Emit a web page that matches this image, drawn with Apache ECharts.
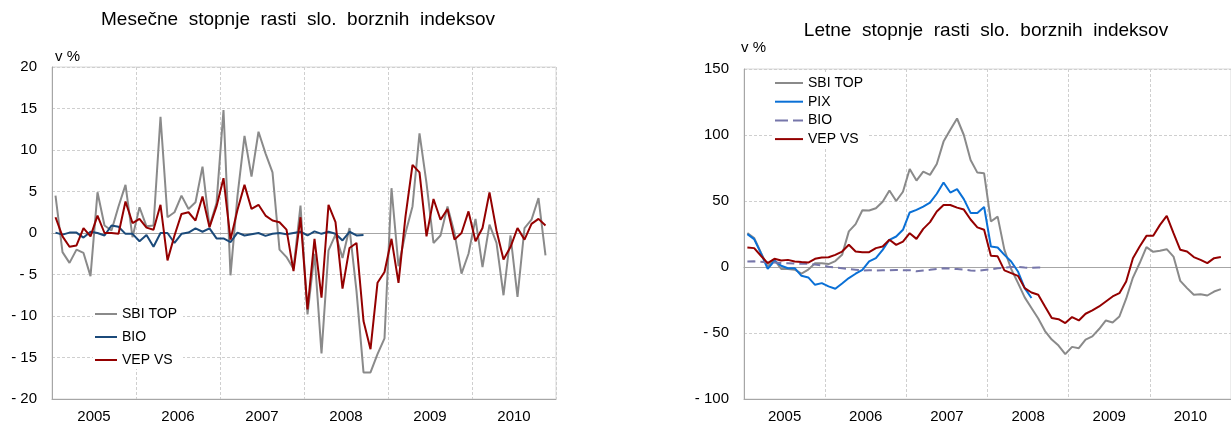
<!DOCTYPE html>
<html>
<head>
<meta charset="utf-8">
<script src="https://cdn.jsdelivr.net/npm/echarts@6/dist/echarts.min.js"></script>
<style>
html,body{margin:0;padding:0;background:#fff;}
#c{width:1231px;height:431px;}
</style>
</head>
<body>
<div id="c"></div>
<script>
// ---- categories ----
const years = ['2005','2006','2007','2008','2009','2010'];
const monthNums = ['01','02','03','04','05','06','07','08','09','10','11','12'];

// ---- left chart: monthly growth rates (v %) ----
const sbiTopM = [4.5,-2.3,-3.6,-2.0,-2.4,-5.2,4.9,0.9,0.3,3.2,5.8,-0.5,3.1,0.8,0.9,14.0,1.9,2.5,4.5,2.9,3.7,8.0,0.8,3.6,14.8,-5.1,4.5,11.7,6.8,12.2,9.6,7.3,-2.0,-2.9,-4.3,3.3,-9.8,-2.5,-14.5,-2.1,-0.2,-3.0,0.6,-7.0,-16.8,-16.8,-14.6,-12.7,5.4,-4.0,0.0,3.2,12.0,6.0,-1.2,-0.3,3.2,0.0,-4.9,-2.5,1.7,-4.1,1.0,-1.2,-7.5,-0.3,-7.7,0.6,1.6,4.2,-2.7];
const bioM = [0.05,-0.2,0.05,0.05,-0.55,0.15,0,-0.3,0.9,0.75,-0.1,-0.1,-1.0,-0.25,-1.65,0,0,-1.2,-0.1,0.05,0.55,0.15,0.55,-0.65,-0.65,-1.1,0.05,-0.3,-0.15,0,-0.35,-0.1,0,-0.15,0,0.15,-0.3,0.2,-0.1,0.15,-0.1,-0.9,0.15,-0.3,-0.25];
const vepM = [1.9,-0.4,-1.65,-1.5,0.6,-0.4,2.1,0.0,0.0,-0.1,3.8,1.2,1.7,0.65,0.4,3.4,-3.3,-0.3,2.3,2.5,1.5,4.4,0.7,3.2,6.6,-0.8,2.8,5.8,2.9,3.4,2.1,1.5,1.3,0.4,-4.6,1.9,-9.2,-0.7,-7.8,3.4,1.3,-6.7,-1.8,-1.2,-10.6,-14.0,-6.0,-4.7,-0.7,-6.0,2.0,8.2,7.3,-0.4,4.1,1.6,2.9,-0.8,0.0,2.6,-1.0,0.6,4.9,0.3,-3.2,-1.7,0.6,-0.8,1.1,1.7,0.9];

// ---- right chart: annual growth rates (v %) ----
const sbiTopY = [25.7,22,10.9,0.5,5.4,-1.5,-1.5,-2,-5,-2,2.9,2.9,2.2,4.5,9.2,27,32.5,43,42.8,44.5,49.5,58,50,57,74.3,65.5,72.3,69.8,78,95,104,112.5,100,81,71.5,71,34.5,38.2,13,-1.5,-12,-23,-31,-39,-48.5,-55,-59.5,-66,-60.5,-61.5,-55,-52.6,-47,-40.5,-42,-37.5,-24,-8,3,15.1,11.5,12.3,13.5,7.9,-10.5,-16,-21,-20.6,-21.6,-18.6,-16.8];
const pixY = [24.9,21.1,10.5,-1.4,4.7,0.9,-0.9,-0.9,-6.7,-7.9,-13.5,-12.2,-14.7,-16.5,-12.5,-8.4,-5.1,-2.1,4.2,6.7,13,20.6,23.1,28.2,41.3,43.3,45.8,48.8,55.5,64,56.4,59,51.4,41,41,45.5,15.5,14.8,9.2,4.2,-3.4,-16,-23.5];
const bioY = [4.2,4.3,4.0,3.5,3.4,3.0,2.9,2.6,2.4,2.4,1.8,1.2,0.2,-0.4,-0.9,-1.5,-2.0,-2.6,-2.5,-2.6,-2.5,-2.4,-2.2,-2.4,-2.4,-3.3,-2.6,-2.1,-1.5,-0.9,-1.2,-1.6,-2.0,-2.6,-2.9,-2.3,-1.8,-1.0,-0.4,0.0,0.0,-0.4,-0.6,-0.4,-0.6];
const vepY = [14.8,14.3,8.5,2.9,6.2,4.9,5.4,4.2,3.7,3.4,6.2,7.2,7.4,9.2,11.7,16.8,11.7,11.2,11.2,14.3,15.5,20.6,16.8,19.3,25.6,21.3,28.9,34,42,47,47,45,43.5,36,30,28.2,8.5,8.1,-2.6,-4.6,-6.7,-16,-19.3,-21,-29.9,-38.7,-39.5,-42.5,-37.9,-40.5,-35.4,-32.9,-29.9,-26.1,-22.3,-19.8,-11,6.7,15.5,23.6,23.6,31.9,38.8,25.6,13,11.7,7.5,5.4,2.9,6.7,7.5];

const months = [];
years.forEach(y => monthNums.forEach(m => months.push(y + '-' + m)));

const FONT = 'Liberation Sans, Arial, sans-serif';
const AXIS_GRAY = '#a6a6a6';
const GRID_GRAY = '#cfcfcf';
const fmt = v => (v < 0 ? '- ' + Math.abs(v) : String(v));

function monthAxis(gridIndex) {
  return {
    type: 'category', gridIndex: gridIndex, data: months, boundaryGap: true,
    axisLine: { show: true, onZero: true, lineStyle: { color: AXIS_GRAY, width: 1 } },
    axisTick: { show: false }, axisLabel: { show: false },
    splitLine: { show: true, interval: (i) => i % 12 === 0, lineStyle: { color: GRID_GRAY, type: [3, 2], width: 1 } }
  };
}
function yearAxis(gridIndex) {
  return {
    type: 'category', gridIndex: gridIndex, data: years, boundaryGap: true, position: 'bottom',
    axisLine: { show: true, onZero: false, lineStyle: { color: AXIS_GRAY, width: 1 } },
    axisTick: { show: false },
    axisLabel: { color: '#000', fontFamily: FONT, fontSize: 15, margin: 10 },
    splitLine: { show: false }
  };
}
function valAxis(gridIndex, min, max, interval) {
  return {
    type: 'value', gridIndex: gridIndex, min: min, max: max, interval: interval,
    axisLine: { show: true, lineStyle: { color: AXIS_GRAY, width: 1 } },
    axisTick: { show: false },
    axisLabel: { color: '#000', fontFamily: FONT, fontSize: 15, margin: 15, formatter: fmt },
    splitLine: { show: true, lineStyle: { color: GRID_GRAY, type: [3, 2], width: 1 } }
  };
}
function line(name, data, color, xi, yi, dashed) {
  return {
    type: 'line', name: name, data: data, xAxisIndex: xi, yAxisIndex: yi,
    symbol: 'none', showSymbol: false, animation: false, connectNulls: false,
    lineStyle: { color: color, width: 2, type: dashed ? [8, 5] : 'solid' },
    itemStyle: { color: color }
  };
}

const C_SBI = '#8a8a8a', C_BIO_L = '#1b4a7a', C_VEP = '#940000', C_PIX = '#0a70d6', C_BIO_R = '#7676aa';
const DASH_ICON = 'path://M0,0h13v2h-13z M18,0h10v2h-10z';

const legendText = { color: '#000', fontFamily: FONT, fontSize: 14, lineHeight: 14 };

const option = {
  animation: false,
  backgroundColor: '#fff',
  textStyle: { fontFamily: FONT },
  grid: [
    { left: 52, top: 67, width: 504, height: 332, show: true, borderColor: '#d9d9d9', borderWidth: 1 },
    { left: 744, top: 69, width: 492, height: 330, show: true, borderColor: '#d9d9d9', borderWidth: 1 }
  ],
  xAxis: [monthAxis(0), yearAxis(0), monthAxis(1), yearAxis(1)],
  yAxis: [valAxis(0, -20, 20, 5), valAxis(1, -100, 150, 50)],
  legend: [
    {
      orient: 'vertical', left: 93, top: 305, itemWidth: 22, itemHeight: 2, itemGap: 9,
      padding: [2, 6, 2, 2], backgroundColor: '#fff', icon: 'rect',
      textStyle: legendText,
      data: ['SBI TOP', 'BIO', 'VEP VS'], formatter: n => n.trim()
    },
    {
      orient: 'vertical', left: 773, top: 74, itemWidth: 28, itemHeight: 2, itemGap: 4.7,
      padding: [2, 6, 2, 2], backgroundColor: '#fff', icon: 'rect',
      textStyle: legendText,
      data: ['SBI TOP ', 'PIX ', { name: 'BIO ', icon: DASH_ICON }, 'VEP VS '], formatter: n => n.trim()
    }
  ],
  graphic: [
    { type: 'text', style: { text: 'Mesečne  stopnje  rasti  slo.  borznih  indeksov', x: 298, y: 20, textAlign: 'center', textVerticalAlign: 'middle', font: '19px ' + FONT, fill: '#000' } },
    { type: 'text', style: { text: 'Letne  stopnje  rasti  slo.  borznih  indeksov', x: 986, y: 31, textAlign: 'center', textVerticalAlign: 'middle', font: '19px ' + FONT, fill: '#000' } },
    { type: 'text', style: { text: 'v %', x: 55, y: 57, textAlign: 'left', textVerticalAlign: 'middle', font: '15px ' + FONT, fill: '#000' } },
    { type: 'text', style: { text: 'v %', x: 741, y: 48, textAlign: 'left', textVerticalAlign: 'middle', font: '15px ' + FONT, fill: '#000' } }
  ],
  series: [
    line('SBI TOP', sbiTopM, C_SBI, 0, 0),
    line('BIO', bioM, C_BIO_L, 0, 0),
    line('VEP VS', vepM, C_VEP, 0, 0),
    line('SBI TOP ', sbiTopY, C_SBI, 2, 1),
    line('PIX ', pixY, C_PIX, 2, 1),
    line('BIO ', bioY, C_BIO_R, 2, 1, true),
    line('VEP VS ', vepY, C_VEP, 2, 1)
  ]
};

const chart = echarts.init(document.getElementById('c'), null, { renderer: 'canvas' });
chart.setOption(option);
</script>
</body>
</html>
